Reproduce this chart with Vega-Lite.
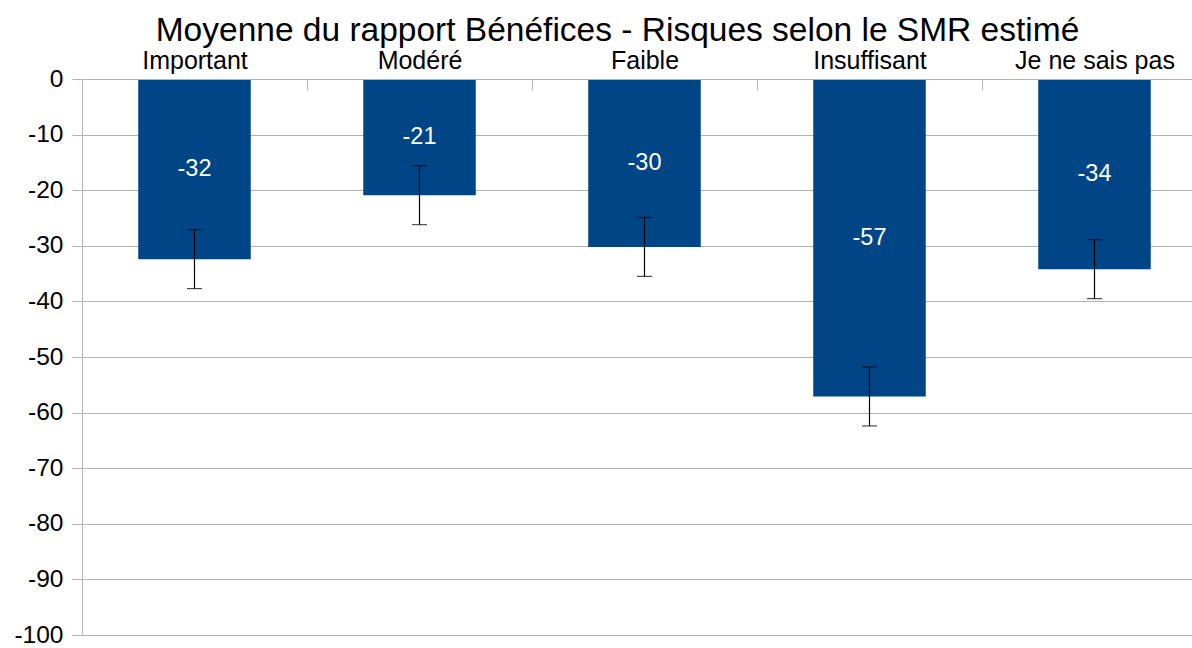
{
  "$schema": "https://vega.github.io/schema/vega-lite/v6.json",
  "width": 1125,
  "height": 556,
  "autosize": {"type": "none"},
  "padding": {"left": 82, "top": 79, "right": 0, "bottom": 13},
  "background": "white",
  "config": {
    "font": "Liberation Sans",
    "view": {"stroke": null}
  },
  "title": {
    "text": "Moyenne du rapport Bénéfices - Risques selon le SMR estimé",
    "fontSize": 33.5,
    "font": "Liberation Sans",
    "fontWeight": "normal",
    "color": "black",
    "anchor": "middle",
    "dx": -27,
    "offset": 0
  },
  "data": {
    "values": [
      {"smr": "Important", "mean": -32.4, "lo": -37.7, "hi": -27.1},
      {"smr": "Modéré", "mean": -20.9, "lo": -26.2, "hi": -15.6},
      {"smr": "Faible", "mean": -30.2, "lo": -35.5, "hi": -24.9},
      {"smr": "Insuffisant", "mean": -57.1, "lo": -62.4, "hi": -51.8},
      {"smr": "Je ne sais pas", "mean": -34.2, "lo": -39.5, "hi": -28.9}
    ]
  },
  "encoding": {
    "x": {
      "field": "smr",
      "type": "nominal",
      "sort": null,
      "scale": {"paddingInner": 0.5, "paddingOuter": 0.25},
      "axis": {
        "orient": "top",
        "title": null,
        "labelAngle": 0,
        "labelFontSize": 25,
        "labelColor": "black",
        "labelFont": "Liberation Sans",
        "labelBaseline": "alphabetic",
        "labelOffset": -112.5,
        "domainColor": "#b3b3b3",
        "tickColor": "#b3b3b3",
        "tickSize": -11,
        "tickOffset": 112.5,
        "labelPadding": 22,
        "grid": false,
        "zindex": 1
      }
    }
  },
  "layer": [
    {
      "mark": {"type": "bar", "color": "#004586"},
      "encoding": {
        "y": {
          "field": "mean",
          "type": "quantitative",
          "scale": {"domain": [-100, 0], "nice": false},
          "axis": {
            "title": null,
            "values": [0, -10, -20, -30, -40, -50, -60, -70, -80, -90, -100],
            "labelExpr": "replace(datum.label, '\u2212', '-')",
            "labelFontSize": 24.5,
            "labelColor": "black",
            "labelFont": "Liberation Sans",
            "labelPadding": 9,
            "tickSize": 10,
            "tickColor": "#b3b3b3",
            "domainColor": "#b3b3b3",
            "gridColor": "#b3b3b3",
            "grid": true
          }
        }
      }
    },
    {
      "mark": {"type": "rule", "color": "black", "strokeWidth": 1.2},
      "encoding": {
        "y": {"field": "lo", "type": "quantitative"},
        "y2": {"field": "hi"}
      }
    },
    {
      "mark": {"type": "tick", "color": "black", "size": 15, "thickness": 1.2, "orient": "horizontal"},
      "encoding": {"y": {"field": "lo", "type": "quantitative"}}
    },
    {
      "mark": {"type": "tick", "color": "black", "size": 15, "thickness": 1.2, "orient": "horizontal"},
      "encoding": {"y": {"field": "hi", "type": "quantitative"}}
    },
    {
      "transform": [
        {"calculate": "datum.mean / 2", "as": "mid"},
        {"calculate": "replace(format(datum.mean, '.0f'), '\u2212', '-')", "as": "label"}
      ],
      "mark": {"type": "text", "color": "white", "fontSize": 23.5, "baseline": "middle", "font": "Liberation Sans"},
      "encoding": {
        "y": {"field": "mid", "type": "quantitative"},
        "text": {"field": "label", "type": "nominal"}
      }
    }
  ]
}
